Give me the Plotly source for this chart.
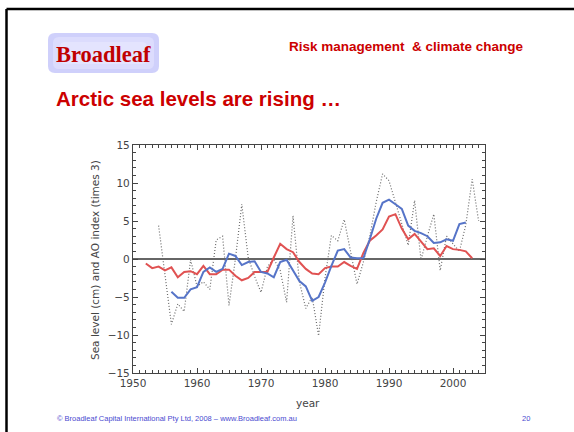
import plotly.graph_objects as go

# Arctic Oscillation index (scaled x3), annual
ao_years = list(range(1954, 2005))
ao_index = [4.4, -2.5, -8.6, -5.9, -6.9, -0.1, -3.6, -3.0, -4.0, 2.5,
            3.0, -6.1, 0.0, 7.2, 0.2, -2.3, -4.4, -1.0, 0.0, -1.5,
            -5.7, 5.7, -3.0, -6.5, -5.0, -10.1, -2.5, 3.1, 2.4, 5.2,
            0.9, -3.3, -0.4, 3.0, 7.5, 11.2, 10.3, 7.5, 4.8, 1.8,
            7.7, -0.1, 3.0, 5.9, -1.5, 3.0, 2.0, 1.0, 4.5, 10.5,
            5.0]

# Smoothed AO index
ao_smooth_years = list(range(1956, 2003))
ao_smooth = [-4.3, -5.1, -5.1, -4.0, -3.7, -1.7, -1.1, -1.7, -1.3, 0.7,
             0.4, -0.8, -0.4, -0.3, -1.7, -1.9, -2.4, -0.4, -0.1, -1.6,
             -2.9, -3.6, -5.5, -5.0, -3.1, -0.9, 1.1, 1.3, 0.2, 0.1,
             0.1, 2.6, 5.3, 7.4, 7.8, 7.2, 6.6, 4.4, 3.7, 3.4,
             3.0, 2.1, 2.2, 2.6, 2.4, 4.6, 4.8]

# Arctic sea level (cm)
sea_years = list(range(1952, 2004))
sea_level = [-0.6, -1.2, -1.0, -1.5, -1.1, -2.4, -1.7, -1.6, -2.0, -0.9,
             -2.0, -2.0, -1.4, -1.4, -2.2, -2.8, -2.5, -1.7, -1.7, -1.7,
             0.2, 2.0, 1.3, 0.9, -0.4, -1.3, -1.9, -2.0, -1.2, -1.0,
             -1.0, -0.4, -0.9, -1.3, 0.8, 2.4, 3.1, 3.9, 5.6, 5.9,
             4.0, 2.6, 3.3, 2.3, 1.3, 1.4, 0.4, 1.7, 1.3, 1.2,
             1.0, 0.1]

x_ticks = [1950, 1960, 1970, 1980, 1990, 2000]
y_ticks = [-15, -10, -5, 0, 5, 10, 15]

W, H = 574, 432
RED = "#cc0000"
AXIS = "#444444"


def px(x):
    return x / W


def py(y):
    return 1 - y / H


fig = go.Figure()
fig.add_trace(go.Scatter(x=ao_years, y=ao_index, mode="lines",
                         line=dict(color="#6a6a6a", width=1.2, dash="1px,2px"),
                         showlegend=False))
fig.add_trace(go.Scatter(x=sea_years, y=sea_level, mode="lines",
                         line=dict(color="#e05252", width=2),
                         showlegend=False))
fig.add_trace(go.Scatter(x=ao_smooth_years, y=ao_smooth, mode="lines",
                         line=dict(color="#5674c8", width=2),
                         showlegend=False))

axis_font = dict(family="DejaVu Sans, sans-serif", size=10.5, color=AXIS)

fig.update_xaxes(
    domain=[px(133), px(485)], range=[1950, 2005], automargin=False,
    tickvals=x_ticks, ticktext=[str(v) for v in x_ticks],
    ticks="inside", ticklen=5, tickwidth=1, tickcolor=AXIS,
    minor=dict(dtick=1, ticks="inside", ticklen=3, tickcolor=AXIS, showgrid=False),
    showline=True, linecolor=AXIS, linewidth=1.2, mirror="allticks",
    showgrid=False, zeroline=False, tickfont=axis_font,
)
fig.update_yaxes(
    domain=[py(373), py(145)], range=[-15, 15], automargin=False,
    tickvals=y_ticks, ticktext=["\u221215", "\u221210", "\u22125", "0", "5", "10", "15"],
    ticks="inside", ticklen=5, tickwidth=1, tickcolor=AXIS,
    minor=dict(dtick=1, ticks="inside", ticklen=3, tickcolor=AXIS, showgrid=False),
    showline=True, linecolor=AXIS, linewidth=1.2, mirror="allticks",
    showgrid=False, zeroline=True, zerolinecolor="#666666", zerolinewidth=1.5,
    tickfont=axis_font,
)

shapes = [
    # slide frame (top and left edges)
    dict(type="line", xref="paper", yref="paper", x0=px(6.5), x1=1, y0=py(9), y1=py(9),
         line=dict(color="black", width=2.5)),
    dict(type="line", xref="paper", yref="paper", x0=px(6.5), x1=px(6.5), y0=0, y1=py(9),
         line=dict(color="black", width=2.5)),
]


def rounded_box(x0, y0, x1, y1, r):
    pts = [("M", x0 + r, y0), ("L", x1 - r, y0), ("Q", x1, y0, x1, y0 + r),
           ("L", x1, y1 - r), ("Q", x1, y1, x1 - r, y1), ("L", x0 + r, y1),
           ("Q", x0, y1, x0, y1 - r), ("L", x0, y0 + r), ("Q", x0, y0, x0 + r, y0)]
    out = []
    for p in pts:
        cmd, coords = p[0], p[1:]
        xy = [f"{px(coords[i]):.5f},{py(coords[i + 1]):.5f}" for i in range(0, len(coords), 2)]
        out.append(cmd + " " + " ".join(xy))
    return " ".join(out) + " Z"


# logo badge: soft lavender with a lighter centre
bx0, by0, bx1, by1 = 48, 33, 159, 73
shapes.append(dict(type="path", xref="paper", yref="paper",
                   path=rounded_box(bx0, by0, bx1, by1, 7),
                   fillcolor="#cfd0fb", line=dict(width=0), layer="below"))
shapes.append(dict(type="path", xref="paper", yref="paper",
                   path=rounded_box(bx0 + 5, by0 + 4, bx1 - 5, by1 - 4, 6),
                   fillcolor="#dcdcfd", line=dict(width=0), layer="below"))
shapes.append(dict(type="path", xref="paper", yref="paper",
                   path=rounded_box(bx0 + 12, by0 + 9, bx1 - 12, by1 - 9, 5),
                   fillcolor="#e4e4fe", line=dict(width=0), layer="below"))

label_font = dict(family="DejaVu Sans, sans-serif", size=10.5, color=AXIS)

annotations = [
    dict(text="<b>Broadleaf</b>", x=px(103.5), y=py(54), xref="paper", yref="paper",
         xanchor="center", yanchor="middle", showarrow=False,
         font=dict(family="Liberation Serif, Times New Roman, serif", size=22.5, color="#c00000")),
    dict(text="<b>Risk management\u00a0\u00a0& climate change</b>", x=px(526), y=py(47),
         xref="paper", yref="paper", xanchor="right", yanchor="middle", showarrow=False,
         font=dict(family="Liberation Sans, Arial, sans-serif", size=13.5, color=RED)),
    dict(text="<b>Arctic sea levels are rising \u2026</b>", x=px(54), y=py(99),
         xref="paper", yref="paper", xanchor="left", yanchor="middle", showarrow=False,
         font=dict(family="Liberation Sans, Arial, sans-serif", size=20.5, color=RED)),
    dict(text="Sea level (cm) and AO index (times 3)", x=px(95), y=py(260),
         xref="paper", yref="paper", xanchor="center", yanchor="middle", showarrow=False,
         textangle=-90, font=label_font),
    dict(text="year", x=px(308), y=py(403), xref="paper", yref="paper",
         xanchor="center", yanchor="middle", showarrow=False, font=label_font),
    dict(text="\u00a9 Broadleaf Capital International Pty Ltd, 2008 \u2013 www.Broadleaf.com.au",
         x=px(55), y=py(418), xref="paper", yref="paper", xanchor="left", yanchor="middle",
         showarrow=False,
         font=dict(family="Liberation Sans, Arial, sans-serif", size=7.5, color="#4a4ad0")),
    dict(text="20", x=px(526), y=py(418), xref="paper", yref="paper",
         xanchor="center", yanchor="middle", showarrow=False,
         font=dict(family="Liberation Sans, Arial, sans-serif", size=7.5, color="#4a4ad0")),
]

fig.update_layout(
    width=W, height=H, margin=dict(l=0, r=0, t=0, b=0, pad=0, autoexpand=False),
    paper_bgcolor="white", plot_bgcolor="white",
    shapes=shapes, annotations=annotations, showlegend=False,
)

# page body flush with the figure so it fills the window exactly
fig.write_html(
    "out.html",
    post_script="document.body.style.margin='0';document.body.style.overflow='hidden';",
)
